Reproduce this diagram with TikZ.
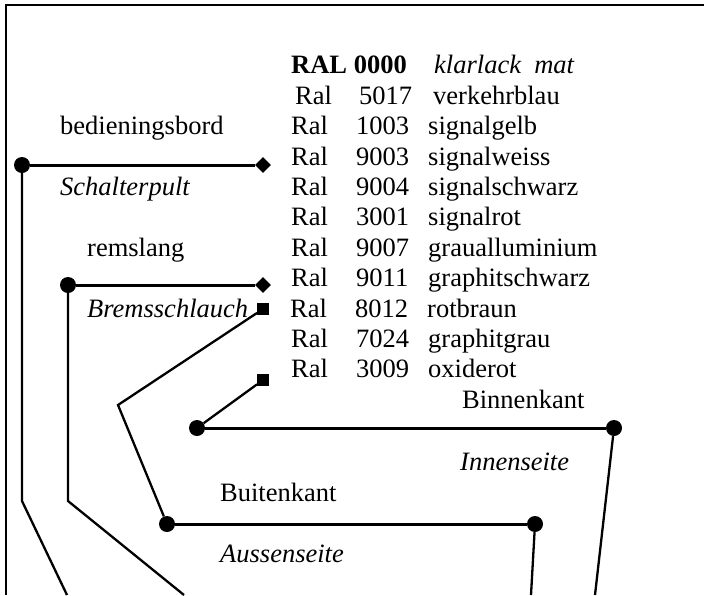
\documentclass[tikz,border=0pt]{standalone}
\usepackage{fontspec}
\setmainfont{Liberation Serif}
\usetikzlibrary{shapes.geometric}

\begin{document}
\begin{tikzpicture}[x=1pt,y=-1pt,
    font=\fontsize{26.5}{30}\selectfont,
    txt/.style={anchor=base west,inner sep=0pt},
    dot/.style={circle,fill,inner sep=0pt,minimum size=16pt},
    ruit/.style={diamond,fill,inner sep=0pt,minimum size=16pt},
    blok/.style={rectangle,fill,inner sep=0pt,minimum size=11.5pt},
    wire/.style={line width=2.3pt},
    flat/.style={line width=3pt}]
    \useasboundingbox (0,0) rectangle (704,595);
    % Frame
    \draw[line width=2.5pt] (704,5) -- (6,5) -- (6,595);
    % Add the colour list
    \node[txt] (ral0) at (291,73.8) {\textbf{RAL 0000}};
    \node[txt] (lack) at (434,73.8) {\textit{klarlack\ \ mat}};
    \node[txt] (ral1) at (295,104.2) {\makebox[64pt][l]{Ral}\makebox[74pt][l]{5017}verkehrblau};
    \node[txt] (ral2) at (291,134.6) {\makebox[65pt][l]{Ral}\makebox[72pt][l]{1003}signalgelb};
    \node[txt] (ral3) at (291,165) {\makebox[65pt][l]{Ral}\makebox[72pt][l]{9003}signalweiss};
    \node[txt] (ral4) at (291,195.4) {\makebox[65pt][l]{Ral}\makebox[72pt][l]{9004}signalschwarz};
    \node[txt] (ral5) at (291,225.8) {\makebox[65pt][l]{Ral}\makebox[72pt][l]{3001}signalrot};
    \node[txt] (ral6) at (291,256.2) {\makebox[65pt][l]{Ral}\makebox[72pt][l]{9007}graualluminium};
    \node[txt] (ral7) at (291,286.6) {\makebox[65pt][l]{Ral}\makebox[72pt][l]{9011}graphitschwarz};
    \node[txt] (ral8) at (290,317) {\makebox[65pt][l]{Ral}\makebox[72pt][l]{8012}rotbraun};
    \node[txt] (ral9) at (291,347.4) {\makebox[65pt][l]{Ral}\makebox[72pt][l]{7024}graphitgrau};
    \node[txt] (ral10) at (291,377.8) {\makebox[65pt][l]{Ral}\makebox[72pt][l]{3009}oxiderot};
    % Add the part names
    \node[txt] (bord) at (60,134.6) {bedieningsbord};
    \node[txt] (pult) at (60,195.4) {\textit{Schalterpult}};
    \node[txt] (slang) at (87,256.2) {remslang};
    \node[txt] (schlauch) at (87,317) {\textit{Bremsschlauch}};
    \node[txt] (binnen) at (462,408) {Binnenkant};
    \node[txt] (innen) at (460,470) {\textit{Innenseite}};
    \node[txt] (buiten) at (220,501) {Buitenkant};
    \node[txt] (aussen) at (220,562) {\textit{Aussenseite}};
    % Add the markers
    \node[dot] (bordA) at (22,165) {};
    \node[ruit] (bordB) at (263,165) {};
    \coordinate (bordC) at (22,501);
    \coordinate (bordD) at (67,595);
    \node[dot] (slangA) at (68,285) {};
    \node[ruit] (slangB) at (263,285) {};
    \coordinate (slangC) at (68,501);
    \coordinate (slangD) at (184,595);
    \node[blok] (buitA) at (263,309) {};
    \coordinate (buitB) at (118,405);
    \node[dot] (buitC) at (167,524) {};
    \node[dot] (buitD) at (535,524) {};
    \coordinate (buitE) at (531,595);
    \node[blok] (binA) at (263,380) {};
    \node[dot] (binB) at (197,428) {};
    \node[dot] (binC) at (614,428) {};
    \coordinate (binD) at (595,595);
    % Connect the markers
    \draw[flat] (bordA) -- (bordB);
    \draw[wire] (bordA) -- (bordC) -- (bordD);
    \draw[flat] (slangA) -- (slangB);
    \draw[wire] (slangA) -- (slangC) -- (slangD);
    \draw[wire] (buitA) -- (buitB) -- (buitC);
    \draw[flat] (buitC) -- (buitD);
    \draw[wire] (buitD) -- (buitE);
    \draw[wire] (binA) -- (binB);
    \draw[flat] (binB) -- (binC);
    \draw[wire] (binC) -- (binD);
\end{tikzpicture}
\end{document}
